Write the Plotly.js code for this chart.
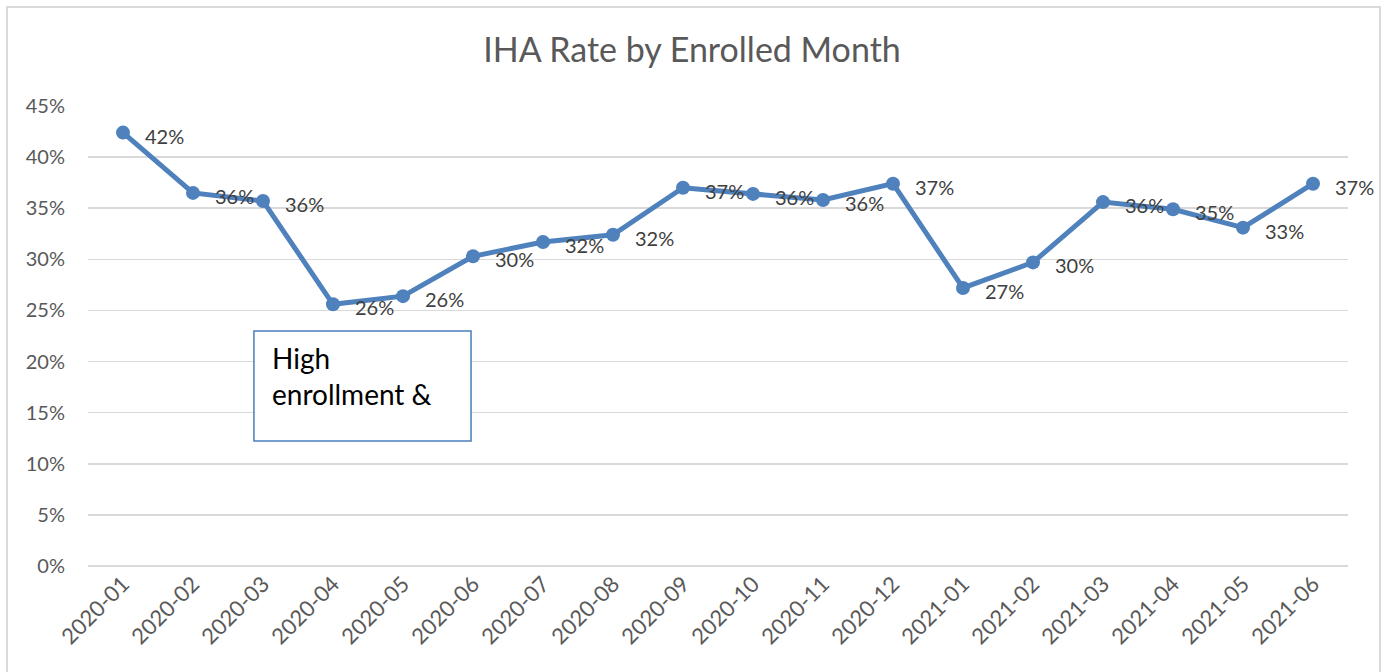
<!DOCTYPE html>
<html>
<head>
<meta charset="utf-8">
<script src="https://cdn.plot.ly/plotly-3.0.1.min.js"></script>
<style>html,body{margin:0;padding:0;background:#fff;}#chart{width:1384px;height:672px;}</style>
</head>
<body>
<div id="chart"></div>
<script>
const months = ["2020-01","2020-02","2020-03","2020-04","2020-05","2020-06","2020-07","2020-08","2020-09","2020-10","2020-11","2020-12","2021-01","2021-02","2021-03","2021-04","2021-05","2021-06"];
const ihaRate = [0.424,0.365,0.357,0.256,0.264,0.303,0.317,0.324,0.370,0.364,0.358,0.374,0.272,0.297,0.356,0.349,0.331,0.374];
const rateLabels = ["42%","36%","36%","26%","26%","30%","32%","32%","37%","36%","36%","37%","27%","30%","36%","35%","33%","37%"];
const titleText = "IHA Rate by Enrolled Month";
const noteText = "High<br>enrollment &";

const FONT = "Lato, 'Liberation Sans', sans-serif";
const blue = "#4F81BD";

const labelAnns = months.map((m, i) => ({
  x: m, y: ihaRate[i], xref: "x", yref: "y",
  text: rateLabels[i], showarrow: false,
  xanchor: "left", yanchor: "middle", xshift: 20, yshift: -3,
  font: {family: FONT, size: 20, color: "#404040"}
}));

const data = [{
  type: "scatter", mode: "lines+markers",
  x: months, y: ihaRate,
  line: {color: blue, width: 5},
  marker: {color: blue, size: 14},
  hoverinfo: "x+y"
}];

const layout = {
  width: 1384, height: 672,
  margin: {l: 88, r: 36, t: 106, b: 106},
  paper_bgcolor: "#ffffff", plot_bgcolor: "#ffffff",
  showlegend: false,
  font: {family: FONT, color: "#595959"},
  title: {text: titleText, x: 0.5, xanchor: "center", y: 0.925, yanchor: "middle",
          font: {family: FONT, size: 34, color: "#595959"}},
  xaxis: {
    type: "category", tickangle: -45, showgrid: false, zeroline: false,
    showline: false, ticks: "", tickfont: {family: FONT, size: 22, color: "#595959"},
    range: [-0.5, months.length - 0.5]
  },
  yaxis: {
    range: [0, 0.45], dtick: 0.05, tickformat: ".0%",
    showgrid: true, gridcolor: "#D9D9D9", gridwidth: 1.5,
    zeroline: true, zerolinecolor: "#D9D9D9", zerolinewidth: 1.5,
    showline: false, ticks: "", ticklabelstandoff: 22,
    tickfont: {family: FONT, size: 20, color: "#595959"}
  },
  shapes: [
    {type: "rect", xref: "paper", yref: "paper", x0: -0.0643, x1: 1.0254, y0: -0.3, y1: 1.2152,
     line: {color: "#D9D9D9", width: 2}, fillcolor: "rgba(0,0,0,0)"},
    {type: "rect", xref: "paper", yref: "paper", x0: 0.1317, x1: 0.3040, y0: 0.2717, y1: 0.5109,
     line: {color: "#4A7EBB", width: 1.5}, fillcolor: "#ffffff", layer: "above"}
  ],
  annotations: labelAnns.concat([{
    xref: "paper", yref: "paper", x: 0.1444, y: 0.494, xanchor: "left", yanchor: "top",
    align: "left", text: noteText, showarrow: false,
    font: {family: FONT, size: 28, color: "#000000"}
  }])
};

Plotly.newPlot("chart", data, layout, {displayModeBar: false, staticPlot: true});
</script>
</body>
</html>
